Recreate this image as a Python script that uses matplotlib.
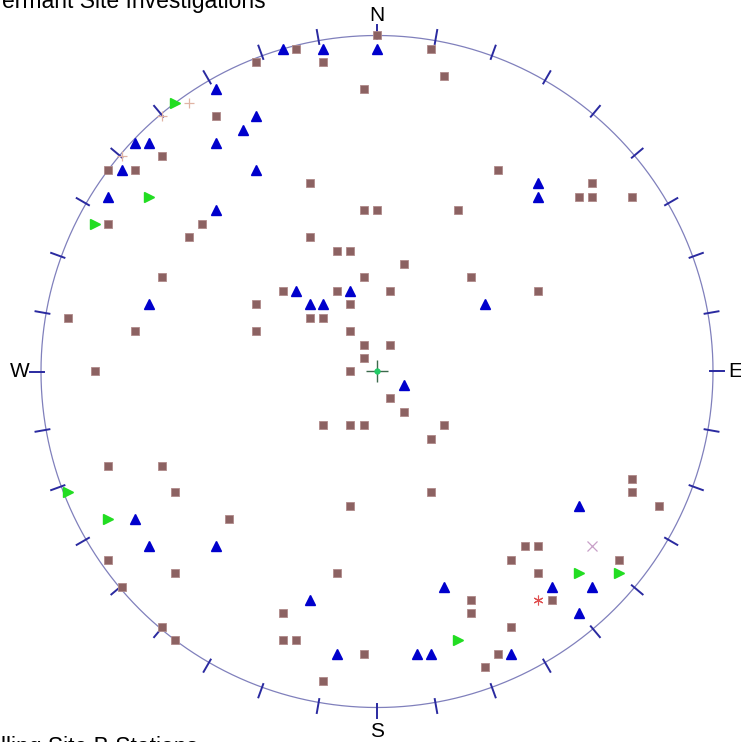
import numpy as np
import matplotlib.pyplot as plt

plt.rcParams['font.family'] = ['Liberation Sans', 'DejaVu Sans']

# pole positions on the net, east / north in percent of the net radius
sq_e = [0, -24, -36, -16, -4, -48, -64, -80, -72, -20, -4, 0, -80, -52, -56, -20, -12, -8, -4, -64,
        -28, -12, -36, -8, -20, -16, -92, -72, -36, -8, -4, -4, -84, -8, 16, 20, 36, 64, 60, 64,
        76, 24, 8, 28, 4, 48, 4, -16, -8, -4, -80, -64, -60, -8, -44, -80, -60, -12, -76, -28,
        -64, -60, -28, -24, -4, -16, 4, 8, 20, 16, 16, 76, 76, 84, 44, 48, 40, 72, 48, 28,
        52, 28, 40, 36, 32]
sq_n = [100, 96, 92, 92, 84, 76, 64, 60, 60, 56, 48, 48, 44, 44, 40, 40, 36, 36, 28, 28,
        24, 24, 20, 20, 16, 16, 16, 12, 12, 12, 8, 4, 0, 0, 96, 88, 60, 56, 52, 52,
        52, 48, 32, 28, 24, 24, 8, -16, -16, -16, -28, -28, -36, -40, -44, -56, -60, -60, -64, -72,
        -76, -80, -80, -80, -84, -92, -8, -12, -16, -20, -36, -32, -36, -40, -52, -52, -56, -56, -60, -68,
        -68, -72, -76, -84, -88]

tri_e = [-28, -16, 0, -48, -36, -40, -72, -68, -48, -76, -36, -80, -48, -24, -8, -20, -16, -68,
         48, 48, 32, -72, -68, -48, -20, -12, 8, 60, 20, 52, 64, 60, 12, 16, 40]
tri_n = [96, 96, 96, 84, 76, 72, 68, 68, 68, 60, 60, 52, 48, 24, 24, 20, 20, 20,
         56, 52, 20, -44, -52, -52, -68, -84, -4, -40, -64, -64, -64, -72, -84, -84, -84]

grn_e = [-60, -68, -84, -92, -80, 60, 72, 24]
grn_n = [80, 52, 44, -36, -44, -60, -60, -80]

plus_e = [-56, -64, -76]
plus_n = [80, 76, 64]
cross_e = [64]
cross_n = [-52]
star_e = [48]
star_n = [-68]

title_top = "ermant Site Investigations"
title_bottom = "illing Site B Stations"

fig = plt.figure(figsize=(7.41, 7.42), dpi=100)
ax = fig.add_axes([0, 0, 1, 1])
ax.set_xlim(-377 / 336, 364 / 336)
ax.set_ylim(-370.5 / 336, 371.5 / 336)
ax.axis('off')

t = np.linspace(0, 2 * np.pi, 721)
ax.plot(np.cos(t), np.sin(t), color='#8080bc', lw=0.9, zorder=1)
for az in np.radians(np.arange(0, 360, 10)):
    ax.plot([0.99 * np.sin(az), 1.032 * np.sin(az)],
            [0.99 * np.cos(az), 1.032 * np.cos(az)], color='#2a2aa0', lw=1.4, zorder=1)

kw = dict(fontsize=15, color='black')
ax.text(0, 1.06, 'N', ha='center', va='center', **kw)
ax.text(0, -1.071, 'S', ha='center', va='center', **kw)
ax.text(1.045, 0.0, 'E', ha='left', va='center', **kw)
ax.text(-1.033, 0.0, 'W', ha='right', va='center', **kw)

pc = lambda v: np.array(v) / 100.0
ax.plot(pc(sq_e), pc(sq_n), 's', ms=6, mfc='#8c6262', mec='#b08a8a', mew=0.6, zorder=3)
ax.plot(pc(tri_e), pc(tri_n), '^', ms=6.5, mfc='#0000cc', mec='#0000cc', zorder=3)
ax.plot(pc(grn_e), pc(grn_n), '>', ms=6.5, mfc='#22dd22', mec='#22dd22', zorder=3)
ax.plot(pc(plus_e), pc(plus_n), '+', ms=7, color='#e0b4a4', mew=0.9, zorder=3)
ax.plot(pc(cross_e), pc(cross_n), 'x', ms=7, color='#c8a0c8', mew=0.9, zorder=3)
ax.plot(pc(star_e), pc(star_n), marker=(6, 2, 0), ls='none', ms=7, color='#e05050', mew=0.8, zorder=3)
ax.plot([0], [0], '+', ms=16, color='#3c6a4c', mew=1.0, zorder=4)
ax.plot([0], [0], 'o', ms=3.5, color='#22cc66', zorder=5)

fig.text(0.003, 1 - 8 / 742, title_top, ha='left', va='baseline', fontsize=16.5)
fig.text(-0.006, 1 - 754 / 742, title_bottom, ha='left', va='baseline', fontsize=16.5)

fig.savefig('out.png', dpi=100)
